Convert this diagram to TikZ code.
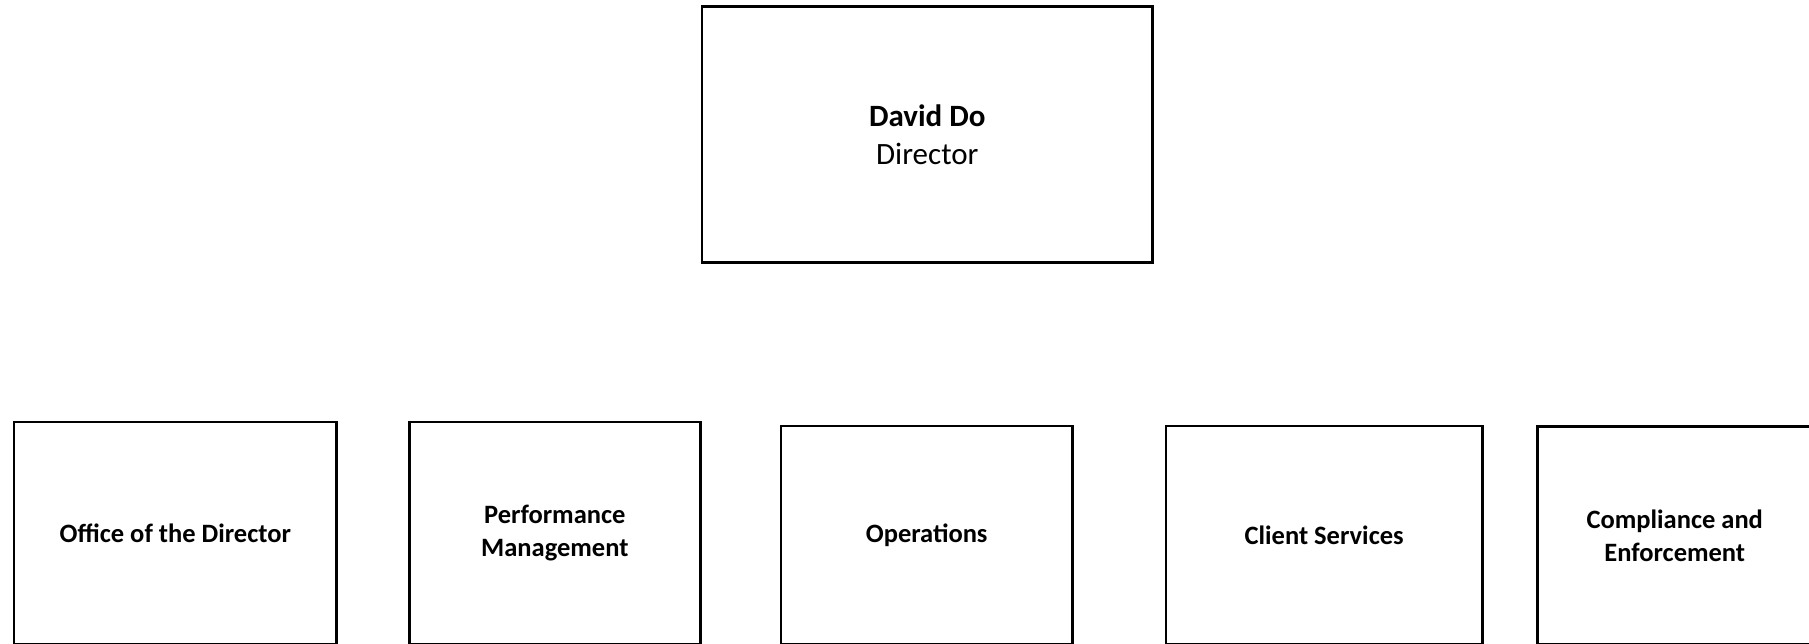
\documentclass[tikz,border=0pt]{standalone}
\usepackage{fontspec}
\setmainfont{Carlito}
\usetikzlibrary{positioning}
\tikzset{
  unit/.style={draw, line width=2.7pt, inner sep=0pt, anchor=north west, align=center,
    font=\fontsize{26.5}{33}\selectfont\bfseries},
  head/.style={unit, font=\fontsize{31}{38}\selectfont}
}
\begin{document}
\begin{tikzpicture}[x=1pt,y=-1pt]
          \useasboundingbox (0,0) rectangle (1809,643);
          \node[head, minimum width=450.5pt, minimum height=256pt] (director) at (700.7,5.3) {\textbf{David Do}\\Director};
          \node[unit, minimum width=322.6pt, minimum height=222pt] (office) at (12.7,420.7) {Office of the Director};
          \node[unit, minimum width=291.4pt, minimum height=222pt] (perf) at (407.8,420.7) {Performance\\Management};
          \node[unit, minimum width=291.7pt, minimum height=218.2pt] (ops) at (779.5,424.5) {Operations};
          \node[unit, minimum width=316.7pt, minimum height=218.2pt] (client) at (1164.5,424.5) {Client Services};
          \node[unit, minimum width=275.2pt, minimum height=217.5pt] (compliance) at (1535.8,425.2) {Compliance and\\Enforcement};
        \end{tikzpicture}
\end{document}
